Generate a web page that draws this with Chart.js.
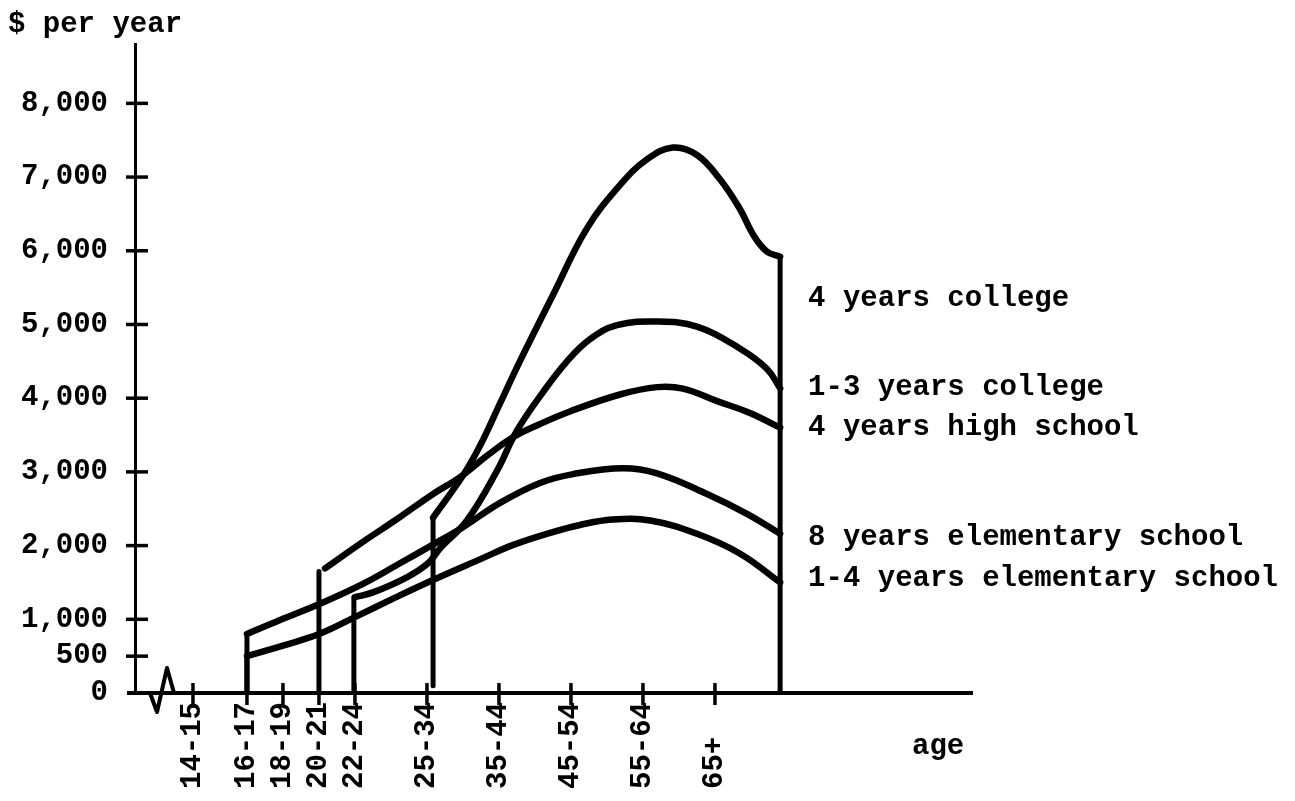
<!DOCTYPE html>
<html>
<head>
<meta charset="utf-8">
<title>Income by age and years of schooling</title>
<script src="https://cdn.jsdelivr.net/npm/chart.js"></script>
<style>
  html, body { margin: 0; padding: 0; background: #fff; }
  #chart { display: block; }
</style>
</head>
<body>
<canvas id="chart" width="1295" height="801"></canvas>
<script>
// age groups on the bottom axis, and where each one sits (the drawing spaces them unevenly)
const ageLabels = ["14-15", "16-17", "18-19", "20-21", "22-24", "25-34", "35-44", "45-54", "55-64", "65+"];
const agePos = [0, 1.5, 2.5, 3.5, 4.5, 6.5, 8.5, 10.5, 12.5, 14.5];
const yTicks = [0, 500, 1000, 2000, 3000, 4000, 5000, 6000, 7000, 8000];

const seriesNames = ["4 years college", "1-3 years college", "4 years high school",
  "8 years elementary school", "1-4 years elementary school"];

// $ per year
const col4X = [6.67, 7.5, 7.97, 8.53, 9.08, 10.0, 10.94, 11.86, 12.61, 13.33, 14.0, 14.64, 15.19, 15.56, 15.94, 16.31];
const col4Y = [2380, 2950, 3350, 3930, 4500, 5400, 6300, 6890, 7240, 7400, 7300, 6970, 6570, 6220, 5990, 5920];

const col13X = [4.5, 5.0, 5.94, 6.53, 6.86, 7.61, 8.44, 9.0, 9.72, 10.39, 11.03, 11.78, 12.89, 14.0, 15.19, 15.94, 16.31];
const col13Y = [1300, 1365, 1570, 1760, 1960, 2340, 3010, 3560, 4080, 4500, 4800, 4990, 5040, 4970, 4675, 4400, 4135];

const hs4X = [3.67, 4.72, 5.67, 6.67, 7.42, 8.17, 8.89, 9.64, 10.47, 11.86, 12.89, 13.61, 14.56, 15.47, 16.31];
const hs4Y = [1690, 2050, 2360, 2700, 2930, 3220, 3470, 3650, 3820, 4050, 4150, 4130, 3960, 3800, 3600];

const elem8X = [1.5, 2.42, 3.53, 4.72, 5.75, 6.58, 7.5, 8.53, 9.64, 10.56, 11.94, 12.89, 14.28, 15.39, 16.31];
const elem8Y = [800, 990, 1210, 1480, 1760, 1990, 2250, 2580, 2850, 2970, 3050, 2980, 2700, 2430, 2160];

const elem14X = [1.5, 2.55, 3.5, 4.5, 5.6, 6.65, 8.0, 8.9, 9.9, 10.75, 11.65, 12.7, 14.0, 15.2, 16.31];
const elem14Y = [500, 650, 800, 1030, 1290, 1530, 1820, 2010, 2170, 2280, 2355, 2340, 2160, 1890, 1500];

// every curve begins with a vertical stroke at its first age group
const riseX = [6.67, 4.47, 3.5, 1.5, 1.5];
const riseFrom = [100, 0, 0, 0, 0];
const riseTo = [2380, 1300, 1650, 800, 500];

const FONT_FAMILY = '"Liberation Mono", "DejaVu Sans Mono", monospace';
const labelFont = { family: FONT_FAMILY, size: 29, weight: "bold" };

const curveX = [col4X, col13X, hs4X, elem8X, elem14X];
const curveY = [col4Y, col13Y, hs4Y, elem8Y, elem14Y];

const datasets = [];
seriesNames.forEach((name, i) => {
  datasets.push({
    label: name,
    data: curveX[i].map((x, j) => ({ x: x, y: curveY[i][j] })),
    borderColor: "#000",
    borderWidth: 6.5,
    tension: 0.4,
    pointRadius: 0,
    borderCapStyle: "round",
    borderJoinStyle: "round"
  });
  datasets.push({
    label: name + " (start)",
    data: [{ x: riseX[i], y: riseFrom[i] }, { x: riseX[i], y: riseTo[i] }],
    borderColor: "#000",
    borderWidth: 5,
    tension: 0,
    pointRadius: 0,
    borderCapStyle: "round"
  });
});

// the college curve drops straight down to the axis at the right
const lastX = col4X[col4X.length - 1];
datasets.push({
  label: "end",
  data: [{ x: lastX, y: col4Y[col4Y.length - 1] }, { x: lastX, y: 0 }],
  borderColor: "#000",
  borderWidth: 5,
  tension: 0,
  pointRadius: 0
});

// extra drawing: crossing tick marks, axis break, captions and the curve names
const labelDrop = [49, 7, 7, 11, 4];

const decorations = {
  id: "decorations",
  afterDraw(chart) {
    const { ctx, chartArea: a, scales } = chart;
    const x = scales.x, y = scales.y;
    ctx.save();
    ctx.strokeStyle = "#000";
    ctx.lineCap = "butt";
    ctx.lineWidth = 3.5;

    yTicks.forEach(v => {
      if (v === 0) return;
      const py = y.getPixelForValue(v);
      ctx.beginPath();
      ctx.moveTo(a.left - 9, py);
      ctx.lineTo(a.left + 13, py);
      ctx.stroke();
    });
    agePos.forEach(v => {
      const px = x.getPixelForValue(v);
      ctx.beginPath();
      ctx.moveTo(px, a.bottom - 10);
      ctx.lineTo(px, a.bottom + 12);
      ctx.stroke();
    });

    ctx.lineWidth = 4;
    ctx.lineJoin = "round";
    ctx.beginPath();
    ctx.moveTo(a.left - 8, a.bottom);
    ctx.lineTo(a.left + 15, a.bottom);
    ctx.lineTo(a.left + 22, a.bottom + 19);
    ctx.lineTo(a.left + 32, a.bottom - 25);
    ctx.lineTo(a.left + 39, a.bottom);
    ctx.stroke();

    ctx.fillStyle = "#000";
    ctx.font = "bold 29px " + FONT_FAMILY;
    ctx.textBaseline = "alphabetic";
    ctx.textAlign = "left";
    ctx.fillText("$ per year", 8, 32);
    ctx.fillText("age", a.right - 60, 754);

    const endPx = x.getPixelForValue(lastX);
    seriesNames.forEach((name, i) => {
      const ys = curveY[i];
      const py = y.getPixelForValue(ys[ys.length - 1]) + labelDrop[i];
      ctx.fillText(name, endPx + 28, py);
    });
    ctx.restore();
  }
};

new Chart(document.getElementById("chart"), {
  type: "line",
  data: { datasets: datasets },
  options: {
    responsive: false,
    animation: false,
    layout: { padding: { top: 42, right: 323, left: 0, bottom: 0 } },
    plugins: {
      legend: { display: false },
      tooltip: { enabled: false }
    },
    scales: {
      x: {
        type: "linear",
        min: -1.61,
        max: 21.64,
        grid: { display: false, drawTicks: false },
        border: { display: true, color: "#000", width: 4 },
        afterBuildTicks: s => { s.ticks = agePos.map(v => ({ value: v })); },
        afterFit: s => { s.height = 108; },
        ticks: {
          autoSkip: false,
          minRotation: 90,
          maxRotation: 90,
          padding: 9,
          color: "#000",
          font: labelFont,
          callback: (v, i) => ageLabels[i].padEnd(5, " ")
        }
      },
      y: {
        min: 0,
        max: 8800,
        grid: { display: false, drawTicks: false },
        border: { display: true, color: "#000", width: 3 },
        afterBuildTicks: s => { s.ticks = yTicks.map(v => ({ value: v })); },
        afterFit: s => { s.width = 135; },
        ticks: {
          padding: 27,
          color: "#000",
          font: labelFont,
          callback: v => v.toLocaleString("en-US")
        }
      }
    }
  },
  plugins: [decorations]
});
</script>
</body>
</html>
